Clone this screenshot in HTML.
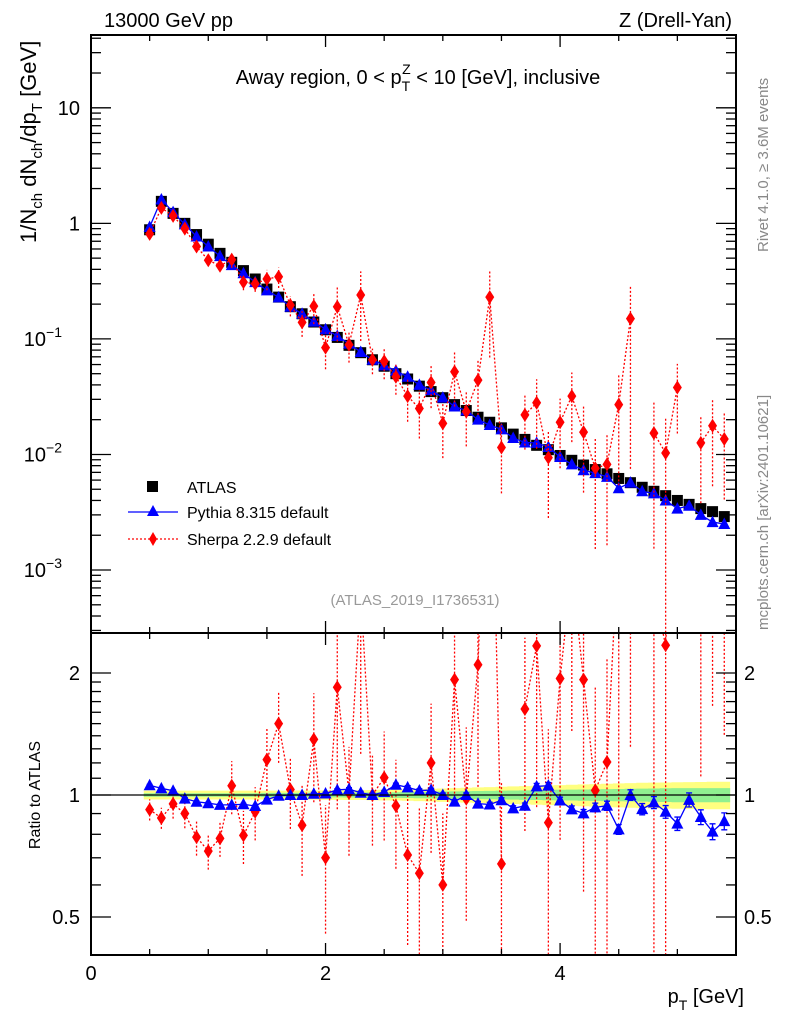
<!DOCTYPE html>
<html><head><meta charset="utf-8"><style>
html,body{margin:0;padding:0;background:#fff;width:786px;height:1024px;overflow:hidden;}
svg{display:block;font-family:"Liberation Sans",Arial,sans-serif;}
</style></head><body>
<svg id="chart" width="786" height="1024" viewBox="0 0 786 1024" xmlns="http://www.w3.org/2000/svg">
<rect x="0" y="0" width="786" height="1024" fill="#fff"/>
<text x="104" y="27" font-size="20">13000 GeV pp</text>
<text x="732" y="27" font-size="20" text-anchor="end">Z (Drell-Yan)</text>
<text x="418" y="84" font-size="20" text-anchor="middle">Away region, 0 &lt; p<tspan font-size="14" dy="7">T</tspan><tspan font-size="14" dx="-8" dy="-17">Z</tspan><tspan dy="10"> &lt; 10 [GeV], inclusive</tspan></text>
<text transform="translate(36,243) rotate(-90)" font-size="22" text-anchor="start">1/N<tspan font-size="15" dy="6">ch</tspan><tspan dy="-6"> dN</tspan><tspan font-size="15" dy="6">ch</tspan><tspan dy="-6">/dp</tspan><tspan font-size="15" dy="6">T</tspan><tspan dy="-6"> [GeV]</tspan></text>
<text transform="translate(40,795) rotate(-90)" font-size="16" text-anchor="middle">Ratio to ATLAS</text>
<text x="744" y="1003" font-size="20" text-anchor="end">p<tspan font-size="14" dy="7">T</tspan><tspan dy="-7"> [GeV]</tspan></text>
<text transform="translate(768,252) rotate(-90)" font-size="15" fill="#888">Rivet 4.1.0, ≥ 3.6M events</text>
<text transform="translate(768,630) rotate(-90)" font-size="15" fill="#888">mcplots.cern.ch [arXiv:2401.10621]</text>
<text x="415" y="605" font-size="15" fill="#999" text-anchor="middle">(ATLAS_2019_I1736531)</text>
<g id="topPanel"></g>
<g id="botPanel"></g>
<g id="legend">
<g><rect x="147" y="481" width="11" height="11" fill="#000"/><text x="187" y="493" font-size="16">ATLAS</text></g>
<g><line x1="128" y1="512" x2="178" y2="512" stroke="#00f" stroke-width="1.3"/><polygon points="153,505 159,516 147,516" fill="#00f"/><text x="187" y="518" font-size="16">Pythia 8.315 default</text></g>
<g><line x1="128" y1="539" x2="178" y2="539" stroke="#f00" stroke-width="1.3" stroke-dasharray="2,2"/><polygon points="153,532 157,539 153,546 149,539" fill="#f00"/><text x="187" y="545" font-size="16">Sherpa 2.2.9 default</text></g>
</g>
</svg>
<script>
const pt = [0.5,0.6,0.7,0.8,0.9,1.0,1.1,1.2,1.3,1.4,1.5,1.6,1.7,1.8,1.9,2.0,2.1,2.2,2.3,2.4,2.5,2.6,2.7,2.8,2.9,3.0,3.1,3.2,3.3,3.4,3.5,3.6,3.7,3.8,3.9,4.0,4.1,4.2,4.3,4.4,4.5,4.6,4.7,4.8,4.9,5.0,5.1,5.2,5.3,5.4];
const atlas = [0.88,1.55,1.22,1.0,0.80,0.66,0.55,0.46,0.39,0.33,0.27,0.23,0.19,0.165,0.14,0.12,0.103,0.088,0.076,0.066,0.058,0.050,0.045,0.039,0.035,0.031,0.027,0.024,0.021,0.019,0.017,0.015,0.0135,0.012,0.011,0.0098,0.0089,0.0081,0.0074,0.0068,0.0062,0.0057,0.0052,0.0048,0.0044,0.0040,0.0037,0.0034,0.0032,0.0029];
const atlasStat = [0.01,0.01,0.01,0.01,0.01,0.01,0.01,0.01,0.01,0.01,0.012,0.012,0.012,0.012,0.013,0.013,0.013,0.014,0.014,0.015,0.015,0.016,0.017,0.018,0.019,0.02,0.021,0.022,0.023,0.024,0.025,0.026,0.027,0.028,0.029,0.03,0.031,0.032,0.033,0.034,0.035,0.036,0.037,0.038,0.039,0.04,0.04,0.04,0.04,0.04];
const atlasTot = [0.025,0.025,0.025,0.025,0.025,0.025,0.025,0.025,0.025,0.025,0.025,0.025,0.025,0.026,0.026,0.027,0.027,0.028,0.028,0.029,0.03,0.031,0.032,0.034,0.036,0.038,0.04,0.042,0.044,0.046,0.048,0.05,0.052,0.054,0.056,0.058,0.06,0.062,0.064,0.066,0.068,0.07,0.072,0.073,0.074,0.075,0.076,0.077,0.078,0.078];
const pythia = [0.93,1.61,1.25,0.98,0.77,0.63,0.52,0.435,0.37,0.31,0.263,0.229,0.19,0.165,0.141,0.121,0.106,0.091,0.077,0.066,0.059,0.053,0.047,0.040,0.036,0.031,0.026,0.024,0.020,0.018,0.0165,0.0139,0.0127,0.0126,0.0116,0.0095,0.0082,0.0073,0.0069,0.0064,0.0051,0.0057,0.0048,0.0046,0.0040,0.0034,0.0036,0.0030,0.0026,0.0025];
const pythiaErr = [0.005,0.005,0.005,0.005,0.005,0.005,0.005,0.005,0.005,0.005,0.006,0.006,0.006,0.006,0.007,0.007,0.007,0.008,0.008,0.008,0.009,0.009,0.01,0.01,0.011,0.011,0.012,0.012,0.013,0.013,0.014,0.015,0.016,0.017,0.018,0.019,0.02,0.022,0.024,0.026,0.028,0.03,0.032,0.034,0.036,0.038,0.04,0.042,0.045,0.048];
const sherpa = [0.81,1.36,1.16,0.90,0.63,0.48,0.43,0.485,0.31,0.30,0.33,0.345,0.196,0.139,0.192,0.084,0.19,0.089,0.24,0.066,0.064,0.047,0.032,0.025,0.042,0.0186,0.052,0.0235,0.044,0.23,0.0115,null,0.022,0.028,0.0094,0.019,0.032,0.0156,0.0076,0.0082,0.027,0.15,null,0.0153,0.0103,0.038,null,0.0126,0.0177,0.0136];
const sherpaErr = [0.06,0.06,0.08,0.08,0.1,0.1,0.1,0.15,0.15,0.15,0.2,0.2,0.2,0.25,0.3,0.35,0.5,0.3,0.6,0.25,0.3,0.3,0.4,0.45,0.4,0.5,0.5,0.5,0.5,0.7,0.6,0.5,0.5,0.6,0.7,0.6,0.6,0.7,0.8,0.8,0.8,0.95,0.8,0.9,1.0,0.6,0.8,0.7,0.7,0.7];
const yTicks = [10,1,0.1,0.01,0.001];
const yTickLabels = ["10","1","10|−1","10|−2","10|−3"];
const rTicks = [0.5,1,2];
const rTickLabels = ["0.5","1","2"];
const xTicks = [0,2,4];

const NS="http://www.w3.org/2000/svg";
const svgRoot=document.getElementById('chart');
const X0=91,X1=736,XMAX=5.5;
const T0=35,T1=633,B0=633,B1=955;
const LOGTOP=1.63,LOGBOT=-3.545;
const RTOP=Math.log2(2.51),RBOT=Math.log2(0.403);
function sx(v){return X0+(X1-X0)*v/XMAX;}
function sy(v){return T0+(T1-T0)*(LOGTOP-Math.log10(v))/(LOGTOP-LOGBOT);}
function sr(v){return B0+(B1-B0)*(RTOP-Math.log2(v))/(RTOP-RBOT);}
function mk(tag,attrs,parent){const e=document.createElementNS(NS,tag);for(const k in attrs)e.setAttribute(k,attrs[k]);parent.appendChild(e);return e;}
const topPanel=document.getElementById('topPanel'),botPanel=document.getElementById('botPanel');

const defs=mk('defs',{},svgRoot);
const c1=mk('clipPath',{id:'ct'},defs);mk('rect',{x:X0,y:T0,width:X1-X0,height:T1-T0},c1);
const c2=mk('clipPath',{id:'cb'},defs);mk('rect',{x:X0,y:B0,width:X1-X0,height:B1-B0},c2);
const gt=mk('g',{'clip-path':'url(#ct)'},topPanel);
const gb=mk('g',{'clip-path':'url(#cb)'},botPanel);

let yl=[],yu=[],gl=[],gu=[];
pt.forEach((p,i)=>{yu.push(sx(p-0.05)+','+sr(1+atlasTot[i]));yu.push(sx(p+0.05)+','+sr(1+atlasTot[i]));
 yl.unshift(sx(p-0.05)+','+sr(1-atlasTot[i]));yl.unshift(sx(p+0.05)+','+sr(1-atlasTot[i]));
 gu.push(sx(p-0.05)+','+sr(1+atlasStat[i]));gu.push(sx(p+0.05)+','+sr(1+atlasStat[i]));
 gl.unshift(sx(p-0.05)+','+sr(1-atlasStat[i]));gl.unshift(sx(p+0.05)+','+sr(1-atlasStat[i]));});
const yb=mk('polygon',{points:yu.concat(yl).join(' '),fill:'#ffff80'},gb);


const gband=mk('polygon',{points:gu.concat(gl).join(' '),fill:'#90f090'},gb);


const one=mk('line',{x1:X0,x2:X1,y1:sr(1),y2:sr(1),stroke:'#000','stroke-width':1.3},botPanel);



pt.forEach((p,i)=>{const r=mk('rect',{x:sx(p)-5.5,y:sy(atlas[i])-5.5,width:11,height:11,fill:'#000'},gt);
 
 });

function sherpaDraw(g,f,isR){
 let d='',pen=false;
 pt.forEach((p,i)=>{const v=sherpa[i];if(v===null){pen=false;return;}const val=isR?v/atlas[i]:v;d+=(pen?'L':'M')+sx(p)+','+f(val)+' ';pen=true;});
 const pl=mk('path',{d:d,fill:'none',stroke:'#f00','stroke-width':1.3,'stroke-dasharray':'2,2'},g);
 
 
 pt.forEach((p,i)=>{const v=sherpa[i];if(v===null)return;const val=isR?v/atlas[i]:v;const e=sherpaErr[i];
  const lo=Math.max(val*(1-e),1e-6),hi=val*(1+e);
  const eb=mk('line',{x1:sx(p),x2:sx(p),y1:f(lo),y2:f(hi),stroke:'#f00','stroke-width':1.3,'stroke-dasharray':'2,2'},g);
  
  
  const x=sx(p),y=f(val);
  const m=mk('polygon',{points:`${x},${y-7} ${x+4.5},${y} ${x},${y+7} ${x-4.5},${y}`,fill:'#f00'},g);
  
  });
}
function pythiaDraw(g,f,isR){
 const pts=pt.map((p,i)=>sx(p)+','+f(isR?pythia[i]/atlas[i]:pythia[i])).join(' ');
 const pl=mk('polyline',{points:pts,fill:'none',stroke:'#00f','stroke-width':1.3},g);
 
 
 pt.forEach((p,i)=>{const val=isR?pythia[i]/atlas[i]:pythia[i];const x=sx(p),y=f(val);
  if(isR){const e=pythiaErr[i];const eb=mk('path',{d:`M${x},${f(val*(1-e))}V${f(val*(1+e))}M${x-3},${f(val*(1-e))}h6M${x-3},${f(val*(1+e))}h6`,stroke:'#00f','stroke-width':1.3,fill:'none'},g);
   
   }
  const m=mk('polygon',{points:`${x},${y-6.5} ${x+6},${y+5} ${x-6},${y+5}`,fill:'#00f'},g);
  
  });
}
pythiaDraw(gt,sy,false);sherpaDraw(gt,sy,false);
sherpaDraw(gb,sr,true);pythiaDraw(gb,sr,true);

[[T0,T1,'main-frame'],[B0,B1,'ratio-frame']].forEach(a=>{const r=mk('rect',{x:X0,y:a[0],width:X1-X0,height:a[1]-a[0],fill:'none',stroke:'#000','stroke-width':2},svgRoot);
 
 });

const axg=mk('g',{stroke:'#000','stroke-width':1.3},svgRoot);
for(let v=0;v<=XMAX+1e-9;v+=0.5){const major=Math.abs(v-Math.round(v/2)*2)<1e-9;const L=major?12:6;const x=sx(v);
 mk('line',{x1:x,x2:x,y1:T0,y2:T0+L},axg);mk('line',{x1:x,x2:x,y1:T1,y2:T1-L},axg);
 mk('line',{x1:x,x2:x,y1:B0,y2:B0+L},axg);mk('line',{x1:x,x2:x,y1:B1,y2:B1-L},axg);}
xTicks.forEach(v=>{const t=mk('text',{x:sx(v),y:980,'font-size':20,'text-anchor':'middle'},svgRoot);t.textContent=v;
 
 });
for(let d=-4;d<=1;d++){for(let k=1;k<=9;k++){const v=k*Math.pow(10,d);const y=sy(v);if(y<T0||y>T1)continue;const L=k==1?20:10;
 mk('line',{x1:X0,x2:X0+L,y1:y,y2:y},axg);mk('line',{x1:X1,x2:X1-L,y1:y,y2:y},axg);}}
yTicks.forEach((v,i)=>{const parts=yTickLabels[i].split('|');const t=mk('text',{x:80,y:sy(v)+7,'font-size':20,'text-anchor':'end'},svgRoot);
 t.textContent=parts[0];if(parts.length>1){t.setAttribute('x',62);const s=mk('tspan',{'font-size':14,dy:-9},t);s.textContent=parts[1];}
 
 });
[0.5,0.6,0.7,0.8,0.9,1,1.1,1.2,1.3,1.4,1.5,1.6,1.7,1.8,1.9,2].forEach(v=>{const y=sr(v);const L=(v==0.5||v==1||v==2)?20:10;
 mk('line',{x1:X0,x2:X0+L,y1:y,y2:y},axg);mk('line',{x1:X1,x2:X1-L,y1:y,y2:y},axg);});
rTicks.forEach((v,i)=>{[[80,'end'],[744,'start']].forEach(s=>{const t=mk('text',{x:s[0],y:sr(v)+7,'font-size':20,'text-anchor':s[1]},svgRoot);t.textContent=rTickLabels[i];
 
 });});
</script>
</body></html>
